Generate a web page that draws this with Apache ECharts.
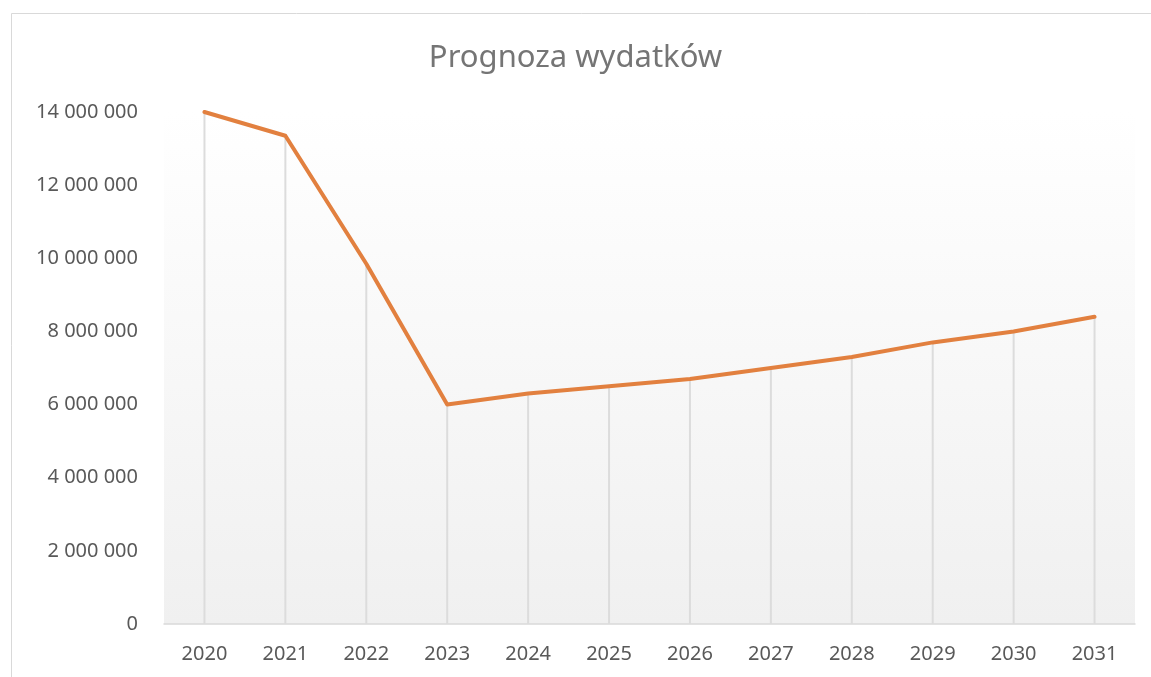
<!DOCTYPE html>
<html>
<head>
<meta charset="utf-8">
<script src="https://cdn.jsdelivr.net/npm/echarts@6/dist/echarts.min.js"></script>
<style>
  html, body { margin: 0; padding: 0; background: #fff; }
  #chart { width: 1151px; height: 677px; }
</style>
</head>
<body>
<div id="chart"></div>
<script>
// dane
const years = ['2020', '2021', '2022', '2023', '2024', '2025', '2026', '2027', '2028', '2029', '2030', '2031'];
const expenses = [14000000, 13350000, 9850000, 6000000, 6300000, 6500000, 6700000, 7000000, 7300000, 7700000, 8000000, 8400000];
const yTicks = { min: 0, max: 14000000, step: 2000000 };

// 14000000 -> "14 000 000"
function fmt(v) {
  return String(v).replace(/\B(?=(\d{3})+(?!\d))/g, ' ');
}

const myChart = echarts.init(document.getElementById('chart'));
const option = {
  backgroundColor: '#fff',
  textStyle: { fontFamily: 'Noto Sans' },
  title: {
    text: 'Prognoza wydatków',
    left: 'center',
    top: 38,
    textStyle: { color: '#757575', fontSize: 31, fontWeight: 'normal', fontFamily: 'Noto Sans' }
  },
  // ramka wykresu
  graphic: [{
    type: 'rect',
    shape: { x: 11.5, y: 13.5, width: 1200, height: 700 },
    style: { fill: 'none', stroke: '#d9d9d9', lineWidth: 1 },
    silent: true
  }],
  grid: {
    left: 164,
    right: 16,
    top: 112,
    bottom: 53,
    show: true,
    borderWidth: 0,
    backgroundColor: {
      type: 'linear', x: 0, y: 0, x2: 0, y2: 1,
      colorStops: [
        { offset: 0, color: '#ffffff' },
        { offset: 1, color: '#f0f0f0' }
      ]
    }
  },
  xAxis: {
    type: 'category',
    data: years,
    boundaryGap: true,
    axisTick: { show: false },
    axisLine: { lineStyle: { color: '#d9d9d9', width: 1.5 } },
    axisLabel: { color: '#595959', fontSize: 20, margin: 20 }
  },
  yAxis: {
    type: 'value',
    min: yTicks.min,
    max: yTicks.max,
    interval: yTicks.step,
    axisLine: { show: false },
    axisTick: { show: false },
    splitLine: { show: false },
    axisLabel: { color: '#595959', fontSize: 20, margin: 26, formatter: fmt }
  },
  series: [{
    // linie pionowe od punktu do osi
    name: 'spadki',
    type: 'bar',
    data: expenses,
    barWidth: 2,
    itemStyle: { color: '#dcdcdc' },
    z: 1,
    silent: true
  }, {
    name: 'Wydatki',
    type: 'line',
    data: expenses,
    symbol: 'none',
    lineStyle: { color: '#e2803f', width: 4, cap: 'round', join: 'round' },
    z: 3
  }]
};
myChart.setOption(option);
</script>
</body>
</html>
